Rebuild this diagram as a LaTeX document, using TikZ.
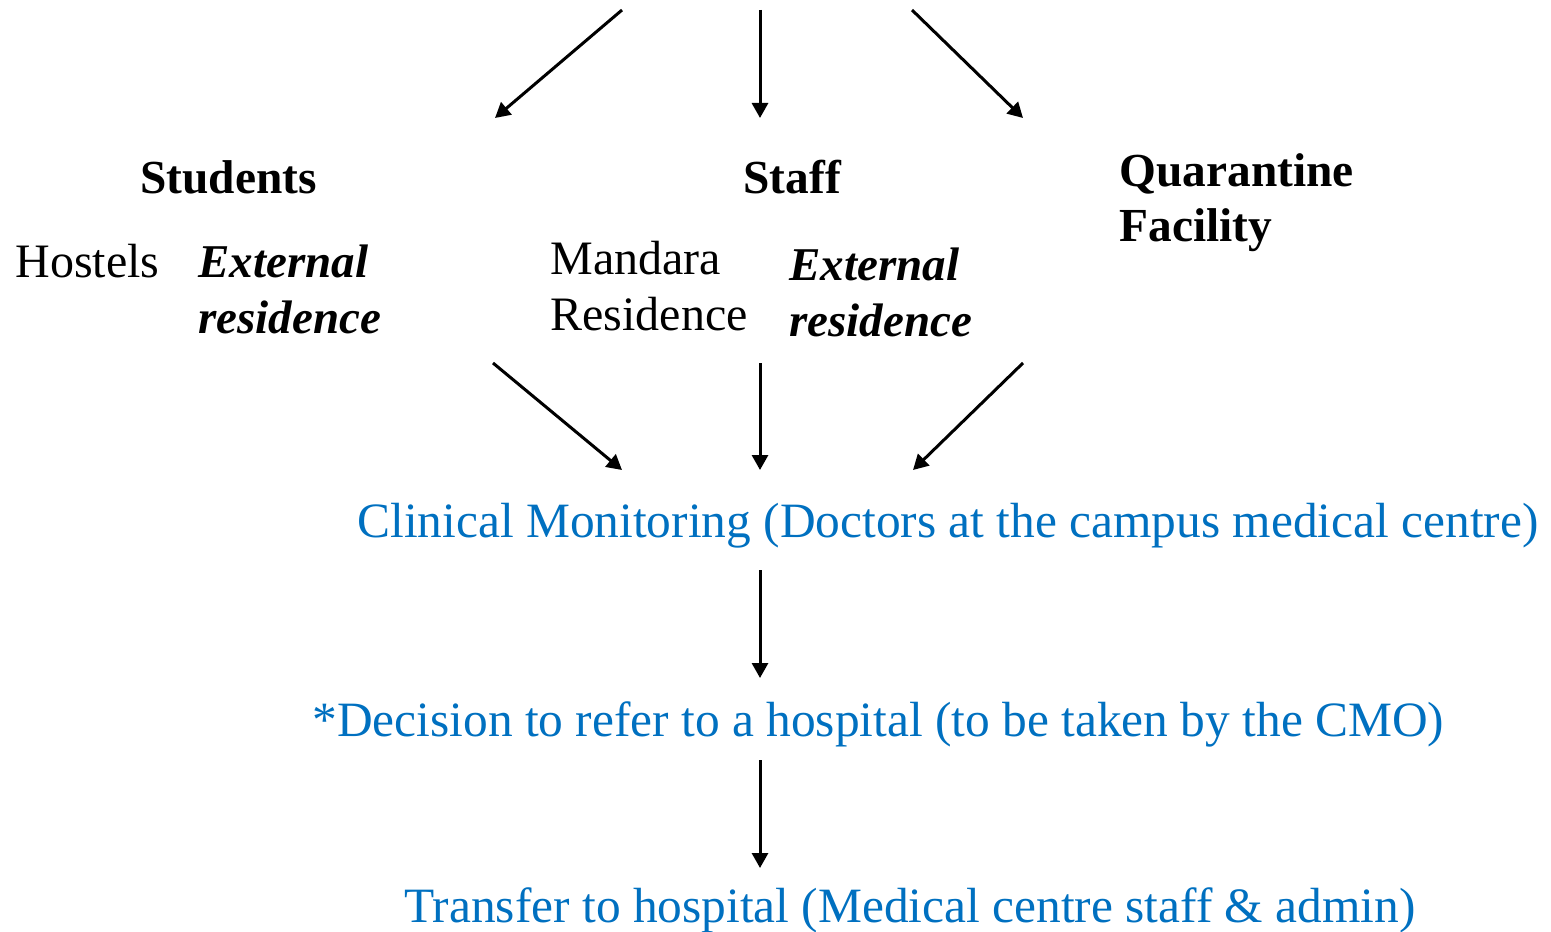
\documentclass[tikz,border=0pt]{standalone}
\usepackage{fontspec}
\setmainfont{Liberation Serif}
\usetikzlibrary{arrows.meta}
\definecolor{flowblue}{RGB}{0,112,192}
\tikzset{
  flow/.style={-{Triangle[length=7.5pt,width=8pt]}, line width=1.5pt},
  lbl/.style={inner sep=0pt, anchor=base west, align=left,
    font=\fontsize{24}{28}\selectfont},
  hdr/.style={lbl, font=\fontsize{23.7}{27.5}\selectfont\bfseries},
  ext/.style={lbl, font=\fontsize{23.5}{28}\selectfont\bfseries\itshape},
  stage/.style={lbl, text=flowblue, font=\fontsize{24.7}{28}\selectfont},
}
\begin{document}
\begin{tikzpicture}[x=0.5pt, y=-0.5pt]
  \useasboundingbox (0,0) rectangle (1551,931);

  % groups (multi-line nodes sit on their last baseline)
  \node[hdr] (students) at (140,193) {Students};
  \node[hdr] (staff) at (743,193) {Staff};
  \node[hdr] (quarantine) at (1119,241) {Quarantine\\Facility};

  % residences
  \node[lbl] (hostels) at (15,277) {Hostels};
  \node[ext] (stuext) at (198,333) {External\\residence};
  \node[lbl] (mandara) at (550,330) {Mandara\\Residence};
  \node[ext] (staffext) at (789,336) {External\\residence};

  % steps
  \node[stage] (clinical) at (357,537) {Clinical Monitoring (Doctors at the campus medical centre)};
  \node[stage] (decision) at (312,736) {*Decision to refer to a hospital (to be taken by the CMO)};
  \node[stage] (transfer) at (404,922) {Transfer to hospital (Medical centre staff \& admin)};

  % arrow ends
  \coordinate (topL) at (622,10);   \coordinate (inL) at (495,118);
  \coordinate (topM) at (760,10);   \coordinate (inM) at (760,118);
  \coordinate (topR) at (912,10);   \coordinate (inR) at (1023,118);
  \coordinate (outL) at (493,363);  \coordinate (monL) at (622,470);
  \coordinate (outM) at (760,363);  \coordinate (monM) at (760,470);
  \coordinate (outR) at (1023,363); \coordinate (monR) at (913,470);
  \coordinate (clinOut) at (760,570); \coordinate (decIn) at (760,678);
  \coordinate (decOut) at (760,760);  \coordinate (trIn) at (760,868);

  \draw[flow] (topL) -- (inL);
  \draw[flow] (topM) -- (inM);
  \draw[flow] (topR) -- (inR);

  \draw[flow] (outL) -- (monL);
  \draw[flow] (outM) -- (monM);
  \draw[flow] (outR) -- (monR);

  \draw[flow] (clinOut) -- (decIn); %% clinical -> decision
  \draw[flow] (decOut) -- (trIn);   %% decision -> transfer
\end{tikzpicture}
\end{document}
